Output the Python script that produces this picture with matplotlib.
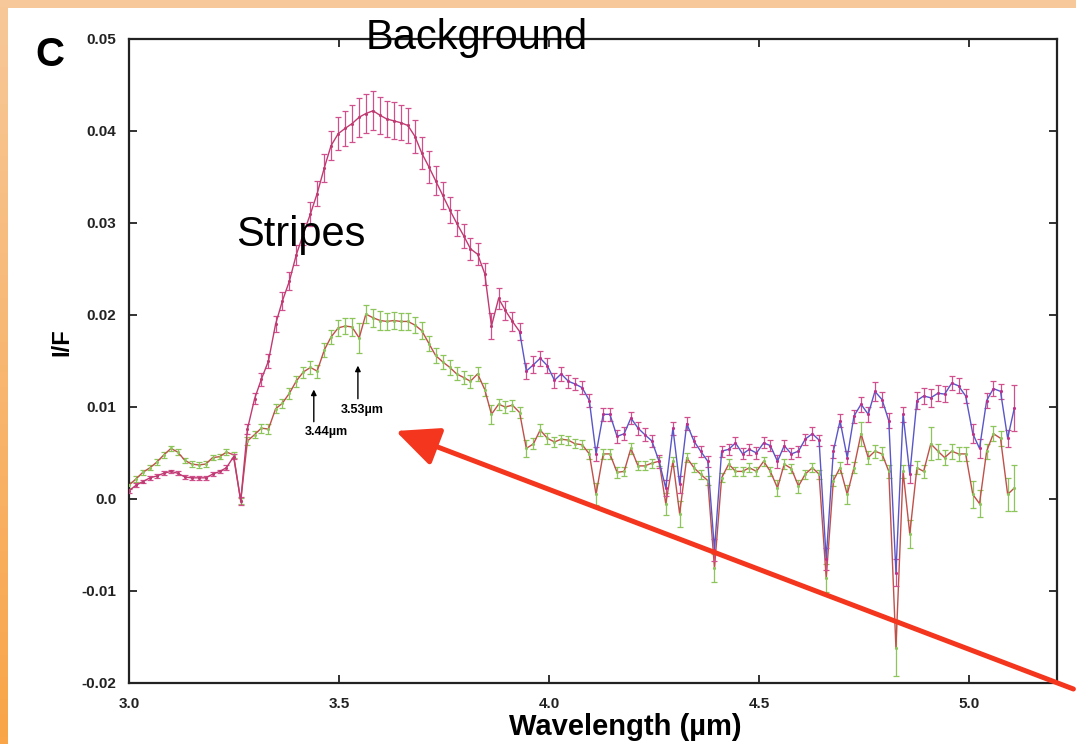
import numpy as np
import matplotlib
matplotlib.use("Agg")
import matplotlib.pyplot as plt
from matplotlib.patches import Rectangle, FancyArrowPatch

plt.rcParams['font.family'] = ['Liberation Sans', 'DejaVu Sans']

# wavelength channels (micron)
wavelength = [3.000, 3.017, 3.033, 3.050, 3.066, 3.083, 3.100, 3.116, 3.133, 3.149,
              3.166, 3.183, 3.199, 3.216, 3.232, 3.249, 3.266, 3.282, 3.299, 3.315,
              3.332, 3.349, 3.365, 3.382, 3.398, 3.415, 3.432, 3.448, 3.465, 3.481,
              3.498, 3.515, 3.531, 3.548, 3.564, 3.581, 3.598, 3.614, 3.631, 3.647,
              3.664, 3.681, 3.697, 3.714, 3.730, 3.747, 3.764, 3.780, 3.797, 3.813,
              3.830, 3.847, 3.863, 3.880, 3.896, 3.913, 3.930, 3.946, 3.963, 3.979,
              3.996, 4.013, 4.029, 4.046, 4.062, 4.079, 4.096, 4.112, 4.129, 4.145,
              4.162, 4.179, 4.195, 4.212, 4.228, 4.245, 4.262, 4.278, 4.295, 4.311,
              4.328, 4.345, 4.361, 4.378, 4.394, 4.411, 4.428, 4.444, 4.461, 4.477,
              4.494, 4.511, 4.527, 4.544, 4.560, 4.577, 4.594, 4.610, 4.627, 4.643,
              4.660, 4.677, 4.693, 4.710, 4.726, 4.743, 4.760, 4.776, 4.793, 4.809,
              4.826, 4.843, 4.859, 4.876, 4.892, 4.909, 4.926, 4.942, 4.959, 4.975,
              4.992, 5.009, 5.025, 5.042, 5.058, 5.075, 5.092, 5.108]

# I/F in units of 1e-3
background = [0.9, 1.5, 1.9, 2.3, 2.5, 2.8, 3.0, 2.8, 2.4, 2.3,
              2.3, 2.3, 2.7, 3.0, 3.4, 4.6, -0.2, 7.6, 10.9, 13.0,
              15.0, 19.0, 21.5, 23.7, 26.5, 28.8, 31.0, 33.2, 36.0, 38.4,
              39.7, 40.3, 40.8, 41.5, 41.9, 42.2, 41.7, 41.3, 41.1, 40.9,
              40.6, 39.4, 37.6, 36.1, 34.6, 33.0, 31.4, 30.0, 28.6, 27.2,
              26.6, 24.5, 18.8, 21.8, 20.5, 19.3, 18.2, 13.9, 14.6, 15.3,
              14.5, 12.9, 13.6, 12.8, 12.5, 12.1, 10.7, 4.9, 9.2, 9.2,
              6.8, 7.1, 8.8, 7.7, 7.0, 6.3, 4.1, 1.2, 7.7, 1.6,
              8.2, 6.3, 5.2, 4.1, -5.5, 5.2, 5.4, 6.1, 4.9, 5.4,
              5.0, 6.1, 5.8, 4.1, 5.8, 4.9, 5.2, 6.5, 7.1, 6.4,
              -6.5, 5.2, 8.5, 4.5, 9.0, 10.3, 9.2, 11.7, 10.8, 8.5,
              -8.0, 9.2, 2.7, 10.7, 11.2, 11.0, 11.5, 11.4, 12.6, 12.3,
              11.2, 7.1, 5.5, 10.7, 12.0, 11.7, 6.6, 9.9]
background_err = [0.2, 0.2, 0.2, 0.2, 0.2, 0.2, 0.2, 0.2, 0.2, 0.2,
                  0.2, 0.2, 0.2, 0.2, 0.3, 0.3, 0.4, 0.5, 0.6, 0.7,
                  0.8, 0.9, 1.0, 1.0, 1.1, 1.2, 1.3, 1.4, 1.5, 1.6,
                  1.8, 1.9, 2.0, 2.1, 2.1, 2.1, 2.0, 2.0, 2.0, 1.9,
                  1.9, 1.8, 1.7, 1.7, 1.6, 1.5, 1.4, 1.4, 1.3, 1.2,
                  1.2, 1.2, 1.4, 1.1, 1.0, 1.0, 0.9, 0.9, 0.9, 0.8,
                  0.8, 0.8, 0.8, 0.7, 0.7, 0.7, 0.7, 0.8, 0.7, 0.7,
                  0.7, 0.7, 0.7, 0.7, 0.7, 0.7, 0.7, 0.9, 0.7, 0.9,
                  0.7, 0.6, 0.6, 0.6, 1.2, 0.6, 0.6, 0.6, 0.6, 0.6,
                  0.6, 0.6, 0.6, 0.7, 0.6, 0.6, 0.6, 0.6, 0.7, 0.6,
                  1.2, 0.7, 0.7, 0.7, 0.7, 0.8, 0.8, 1.0, 0.8, 0.8,
                  1.5, 0.8, 1.0, 0.9, 0.9, 1.0, 0.9, 0.9, 0.8, 0.8,
                  0.8, 1.0, 1.0, 0.8, 0.8, 0.8, 0.9, 2.5]

stripes = [1.5, 2.2, 2.9, 3.4, 4.0, 4.8, 5.5, 5.1, 4.2, 3.8,
           3.7, 3.8, 4.5, 4.6, 5.1, 4.8, -0.2, 6.3, 7.0, 7.7,
           7.6, 9.8, 10.4, 11.5, 12.8, 13.8, 14.3, 13.9, 16.2, 17.6,
           18.6, 18.8, 18.7, 17.5, 20.1, 19.7, 19.4, 19.3, 19.4, 19.3,
           19.3, 18.9, 18.3, 16.9, 15.6, 14.9, 14.3, 13.6, 13.2, 12.8,
           13.6, 11.9, 9.2, 10.3, 10.0, 10.2, 9.4, 5.5, 6.0, 7.5,
           6.6, 6.2, 6.5, 6.4, 6.0, 5.9, 4.9, 0.5, 4.9, 4.9,
           2.9, 3.0, 5.5, 3.6, 3.6, 3.9, 4.1, -0.5, 4.1, -1.6,
           4.5, 3.4, 2.7, 2.0, -7.5, 2.3, 3.8, 3.0, 3.0, 3.4,
           3.0, 4.1, 3.0, 1.2, 3.8, 3.3, 1.4, 2.7, 3.4, 2.7,
           -8.6, 2.0, 3.4, 0.5, 3.4, 7.1, 4.5, 5.2, 4.9, 3.0,
           -16.2, 3.0, -3.8, 3.4, 3.0, 6.0, 5.2, 4.5, 5.2, 4.9,
           4.9, 0.5, -0.5, 5.2, 7.1, 6.6, 0.5, 1.2]
stripes_err = [0.3, 0.3, 0.3, 0.3, 0.3, 0.3, 0.3, 0.3, 0.3, 0.3,
               0.3, 0.3, 0.3, 0.3, 0.3, 0.3, 0.3, 0.4, 0.4, 0.5,
               0.5, 0.5, 0.5, 0.6, 0.6, 0.6, 0.7, 0.7, 0.8, 0.8,
               0.9, 0.9, 1.0, 1.6, 1.0, 1.0, 1.0, 0.9, 0.9, 0.9,
               0.9, 0.9, 0.9, 0.8, 0.8, 0.8, 0.8, 0.7, 0.7, 0.7,
               0.8, 0.7, 1.0, 0.6, 0.6, 0.6, 0.6, 0.9, 0.6, 0.6,
               0.6, 0.5, 0.5, 0.5, 0.5, 0.5, 0.5, 1.2, 0.5, 0.5,
               0.6, 0.5, 0.6, 0.5, 0.5, 0.5, 0.5, 1.2, 0.5, 1.4,
               0.5, 0.5, 0.5, 0.5, 1.5, 0.5, 0.5, 0.5, 0.5, 0.5,
               0.5, 0.5, 0.5, 0.9, 0.5, 0.5, 0.7, 0.5, 0.5, 0.5,
               1.5, 0.6, 0.6, 1.0, 0.6, 1.3, 0.7, 0.7, 0.7, 0.7,
               3.0, 0.7, 1.5, 0.7, 0.7, 1.8, 0.8, 0.8, 0.8, 0.8,
               0.8, 1.5, 1.5, 0.8, 0.8, 0.8, 1.8, 2.5]

x_ticks = [3.0, 3.5, 4.0, 4.5, 5.0]
y_ticks = [-0.02, -0.01, 0.0, 0.01, 0.02, 0.03, 0.04, 0.05]
y_ticklabels = ['-0.02', '-0.01', '0.0', '0.01', '0.02', '0.03', '0.04', '0.05']

wl = np.array(wavelength)
bg = np.array(background) * 1e-3
bg_e = np.array(background_err) * 1e-3
st = np.array(stripes) * 1e-3
st_e = np.array(stripes_err) * 1e-3
split = 56  # background line turns blue from here on

fig = plt.figure(figsize=(10.76, 7.44), dpi=100)
fig.patch.set_facecolor('#f7c899')

# orange slide frame, white panel
fig.patches.append(Rectangle((8 / 1076, 0), 1, 1 - 8 / 744, transform=fig.transFigure,
                             facecolor='white', edgecolor='none', zorder=-5))
grad_ax = fig.add_axes([0, 0, 8 / 1076, 1], zorder=-4)
grad_ax.imshow(np.linspace(0, 1, 100).reshape(-1, 1), aspect='auto',
               cmap=matplotlib.colors.LinearSegmentedColormap.from_list('o', ['#f7c899', '#f9a548']))
grad_ax.axis('off')

ax = fig.add_axes([129 / 1076, 61 / 744, 928 / 1076, 644 / 744], zorder=1)
ax.set_facecolor('white')

ax.errorbar(wl, st, yerr=st_e, fmt='none', ecolor='#8cc55a', elinewidth=0.9,
            capsize=2, capthick=0.9, zorder=2)
ax.plot(wl, st, color='#c0504a', lw=1.0, marker='.', ms=2.5, mfc='#8cc55a', mec='#8cc55a', zorder=3)

ax.errorbar(wl, bg, yerr=bg_e, fmt='none', ecolor='#d0508e', elinewidth=0.9,
            capsize=2, capthick=0.9, zorder=4)
ax.plot(wl[:split + 1], bg[:split + 1], color='#c03a72', lw=1.0, marker='.', ms=2.5, zorder=5)
ax.plot(wl[split:], bg[split:], color='#5a56c8', lw=1.0, marker='.', ms=2.5,
        mfc='#c0308a', mec='#c0308a', zorder=5)

ax.set_xlim(3.0, 5.2095)
ax.set_ylim(-0.02, 0.05)
ax.set_xticks(x_ticks)
ax.set_xticklabels([f'{t:.1f}' for t in x_ticks])
ax.set_yticks(y_ticks)
ax.set_yticklabels(y_ticklabels)
ax.tick_params(direction='in', length=6, width=1.3, top=True, right=True,
               labelsize=11, colors='#222222')
ax.tick_params(axis='x', pad=10)
ax.tick_params(axis='y', pad=9)
for lab in ax.get_xticklabels() + ax.get_yticklabels():
    lab.set_fontweight('bold')
for sp in ax.spines.values():
    sp.set_linewidth(1.6)
    sp.set_color('#222222')

ax.set_xlabel('Wavelength (µm)', fontsize=21, fontweight='bold')
ax.xaxis.set_label_coords(0.535, -0.046)
ax.set_ylabel('I/F', fontsize=17, fontweight='bold')
ax.yaxis.set_label_coords(-0.060, 0.53)

# band markers
ax.annotate('', xy=(3.44, 0.0122), xytext=(3.44, 0.0081),
            arrowprops=dict(arrowstyle='-|>', color='black', lw=1.0, mutation_scale=8))
ax.text(3.469, 0.0079, '3.44µm', fontsize=9, fontweight='bold', ha='center', va='top')
ax.annotate('', xy=(3.545, 0.0148), xytext=(3.545, 0.0106),
            arrowprops=dict(arrowstyle='-|>', color='black', lw=1.0, mutation_scale=8))
ax.text(3.555, 0.0103, '3.53µm', fontsize=9, fontweight='bold', ha='center', va='top')

# slide labels
fig.text(50 / 1076, 1 - 55 / 744, 'C', fontsize=29, fontweight='bold', ha='center', va='center', zorder=6)
fig.text(477 / 1076, 1 - 38 / 744, 'Background', fontsize=30, ha='center', va='center', zorder=6)
fig.text(301 / 1076, 1 - 235 / 744, 'Stripes', fontsize=30, ha='center', va='center', zorder=6)

fig.patches.append(FancyArrowPatch((1.0, 1 - 690 / 744), (393 / 1076, 1 - 430 / 744),
                                   transform=fig.transFigure,
                                   arrowstyle='-|>,head_length=2.2,head_width=1.0',
                                   mutation_scale=12, color='#f4361e', lw=3.6, zorder=10))

fig.savefig('out.png', dpi=100, facecolor=fig.get_facecolor())
